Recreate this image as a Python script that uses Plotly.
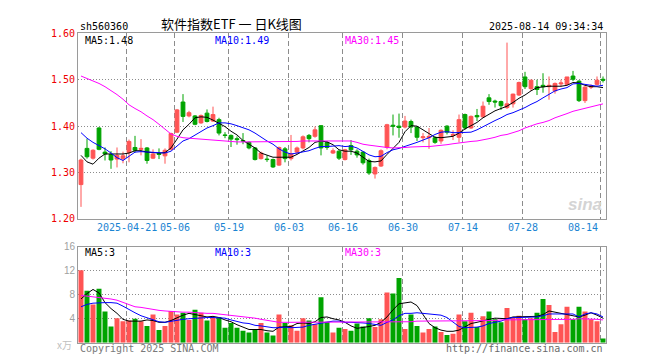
import plotly.graph_objects as go

# ---------------- data ----------------
dates = (
    ["2025-04-09", "2025-04-10", "2025-04-11", "2025-04-14", "2025-04-15", "2025-04-16", "2025-04-17",
     "2025-04-18", "2025-04-21", "2025-04-22", "2025-04-23", "2025-04-24", "2025-04-25", "2025-04-28",
     "2025-04-29", "2025-04-30",
     "2025-05-06", "2025-05-07", "2025-05-08", "2025-05-09", "2025-05-12", "2025-05-13", "2025-05-14",
     "2025-05-15", "2025-05-16", "2025-05-19", "2025-05-20", "2025-05-21", "2025-05-22", "2025-05-23",
     "2025-05-26", "2025-05-27", "2025-05-28", "2025-05-29", "2025-05-30",
     "2025-06-03", "2025-06-04", "2025-06-05", "2025-06-06", "2025-06-09", "2025-06-10", "2025-06-11",
     "2025-06-12", "2025-06-13", "2025-06-16", "2025-06-17", "2025-06-18", "2025-06-19", "2025-06-20",
     "2025-06-23", "2025-06-24", "2025-06-25", "2025-06-26", "2025-06-27", "2025-06-30",
     "2025-07-01", "2025-07-02", "2025-07-03", "2025-07-04", "2025-07-07", "2025-07-08", "2025-07-09",
     "2025-07-10", "2025-07-11", "2025-07-14", "2025-07-15", "2025-07-16", "2025-07-17", "2025-07-18",
     "2025-07-21", "2025-07-22", "2025-07-23", "2025-07-24", "2025-07-25", "2025-07-28", "2025-07-29",
     "2025-07-30", "2025-07-31",
     "2025-08-01", "2025-08-04", "2025-08-05", "2025-08-06", "2025-08-07", "2025-08-08", "2025-08-11",
     "2025-08-12", "2025-08-13", "2025-08-14"]
)

opens = [1.274, 1.352, 1.331, 1.396, 1.344, 1.339, 1.329, 1.330, 1.343, 1.354,
         1.350, 1.353, 1.331, 1.341, 1.336, 1.350, 1.387, 1.452, 1.422, 1.422,
         1.407, 1.428, 1.411, 1.414, 1.381, 1.380, 1.373, 1.369, 1.365, 1.353,
         1.330, 1.329, 1.328, 1.316, 1.351, 1.330, 1.344, 1.353, 1.380, 1.378,
         1.401, 1.365, 1.342, 1.346, 1.328, 1.358, 1.346, 1.344, 1.326, 1.297,
         1.314, 1.354, 1.402, 1.400, 1.398, 1.410, 1.398, 1.375, 1.375, 1.375,
         1.368, 1.400, 1.380, 1.376, 1.425, 1.396, 1.423, 1.420, 1.461, 1.454,
         1.453, 1.440, 1.448, 1.467, 1.506, 1.481, 1.485, 1.488, 1.485, 1.476,
         1.491, 1.490, 1.508, 1.497, 1.455, 1.484, 1.490, 1.501]
highs = [1.330, 1.373, 1.350, 1.398, 1.354, 1.346, 1.354, 1.345, 1.371, 1.379,
         1.372, 1.355, 1.350, 1.352, 1.352, 1.386, 1.437, 1.469, 1.433, 1.424,
         1.425, 1.436, 1.442, 1.418, 1.387, 1.382, 1.378, 1.385, 1.367, 1.355,
         1.345, 1.337, 1.330, 1.356, 1.355, 1.381, 1.356, 1.380, 1.383, 1.399,
         1.402, 1.368, 1.352, 1.348, 1.351, 1.370, 1.350, 1.346, 1.330, 1.313,
         1.350, 1.405, 1.425, 1.427, 1.422, 1.414, 1.400, 1.385, 1.396, 1.378,
         1.393, 1.402, 1.391, 1.425, 1.427, 1.423, 1.437, 1.453, 1.469, 1.457,
         1.455, 1.580, 1.470, 1.496, 1.517, 1.500, 1.500, 1.514, 1.507, 1.494,
         1.500, 1.506, 1.519, 1.499, 1.486, 1.490, 1.507, 1.507]
lows = [1.226, 1.330, 1.328, 1.348, 1.326, 1.308, 1.311, 1.320, 1.322, 1.343,
        1.337, 1.319, 1.329, 1.329, 1.319, 1.348, 1.385, 1.409, 1.419, 1.402,
        1.405, 1.408, 1.409, 1.380, 1.374, 1.355, 1.360, 1.361, 1.350, 1.326,
        1.328, 1.323, 1.310, 1.314, 1.322, 1.326, 1.340, 1.350, 1.365, 1.375,
        1.337, 1.349, 1.340, 1.327, 1.326, 1.338, 1.332, 1.317, 1.295, 1.287,
        1.312, 1.350, 1.380, 1.375, 1.395, 1.385, 1.368, 1.365, 1.351, 1.362,
        1.362, 1.382, 1.370, 1.365, 1.392, 1.394, 1.411, 1.418, 1.446, 1.440,
        1.435, 1.437, 1.440, 1.465, 1.480, 1.476, 1.467, 1.472, 1.457, 1.470,
        1.485, 1.488, 1.497, 1.452, 1.450, 1.480, 1.487, 1.494]
closes = [1.327, 1.334, 1.348, 1.350, 1.340, 1.327, 1.337, 1.336, 1.367, 1.348,
          1.352, 1.326, 1.340, 1.339, 1.348, 1.384, 1.435, 1.421, 1.429, 1.404,
          1.423, 1.410, 1.425, 1.385, 1.380, 1.372, 1.371, 1.368, 1.353, 1.328,
          1.342, 1.328, 1.312, 1.354, 1.330, 1.340, 1.353, 1.377, 1.373, 1.392,
          1.353, 1.354, 1.347, 1.331, 1.349, 1.349, 1.338, 1.321, 1.299, 1.311,
          1.347, 1.403, 1.400, 1.397, 1.411, 1.398, 1.376, 1.377, 1.378, 1.365,
          1.391, 1.387, 1.382, 1.414, 1.396, 1.421, 1.420, 1.443, 1.453, 1.452,
          1.444, 1.448, 1.469, 1.494, 1.485, 1.499, 1.479, 1.485, 1.488, 1.492,
          1.493, 1.506, 1.501, 1.455, 1.484, 1.486, 1.499, 1.499]

ma5 = [1.337, 1.323, 1.318, 1.331, 1.340, 1.340, 1.340, 1.340, 1.342, 1.347,
       1.347, 1.344, 1.343, 1.342, 1.343, 1.353, 1.372, 1.392, 1.404, 1.418,
       1.420, 1.419, 1.413, 1.406, 1.399, 1.389, 1.381, 1.369, 1.361, 1.353,
       1.342, 1.338, 1.333, 1.333, 1.333, 1.333, 1.339, 1.346, 1.354, 1.365,
       1.368, 1.366, 1.360, 1.349, 1.346, 1.346, 1.342, 1.333, 1.324, 1.323,
       1.325, 1.339, 1.353, 1.365, 1.388, 1.401, 1.400, 1.392, 1.385, 1.376,
       1.375, 1.376, 1.378, 1.385, 1.394, 1.401, 1.408, 1.418, 1.426, 1.433,
       1.438, 1.443, 1.451, 1.460, 1.467, 1.476, 1.483, 1.485, 1.486, 1.486,
       1.486, 1.488, 1.494, 1.493, 1.488, 1.485, 1.485, 1.483]
ma10 = [1.386, 1.374, 1.365, 1.358, 1.351, 1.342, 1.332, 1.326, 1.335, 1.344,
        1.345, 1.344, 1.344, 1.342, 1.342, 1.346, 1.358, 1.368, 1.373, 1.381,
        1.389, 1.396, 1.401, 1.407, 1.407, 1.405, 1.401, 1.397, 1.392, 1.385,
        1.376, 1.368, 1.361, 1.351, 1.344, 1.340, 1.342, 1.344, 1.347, 1.352,
        1.356, 1.356, 1.357, 1.358, 1.356, 1.357, 1.353, 1.346, 1.338, 1.334,
        1.335, 1.343, 1.349, 1.352, 1.356, 1.360, 1.365, 1.370, 1.375, 1.382,
        1.387, 1.388, 1.386, 1.386, 1.386, 1.387, 1.392, 1.399, 1.406, 1.412,
        1.418, 1.425, 1.429, 1.434, 1.440, 1.447, 1.453, 1.461, 1.469, 1.476,
        1.480, 1.483, 1.491, 1.492, 1.490, 1.488, 1.486, 1.488]
ma30 = [1.508, 1.503, 1.497, 1.492, 1.485, 1.477, 1.468, 1.458, 1.446, 1.438,
        1.431, 1.422, 1.414, 1.404, 1.393, 1.383, 1.378, 1.375, 1.374, 1.373,
        1.372, 1.371, 1.370, 1.368, 1.367, 1.366, 1.366, 1.366, 1.366, 1.366,
        1.366, 1.366, 1.366, 1.366, 1.366, 1.366, 1.367, 1.368, 1.368, 1.369,
        1.369, 1.369, 1.369, 1.369, 1.369, 1.368, 1.365, 1.361, 1.359, 1.357,
        1.356, 1.354, 1.353, 1.353, 1.354, 1.355, 1.356, 1.356, 1.356, 1.357,
        1.359, 1.360, 1.362, 1.364, 1.365, 1.367, 1.368, 1.370, 1.373, 1.376,
        1.380, 1.382, 1.386, 1.390, 1.396, 1.401, 1.405, 1.408, 1.412, 1.418,
        1.422, 1.427, 1.432, 1.435, 1.438, 1.441, 1.444, 1.448]

volumes = [12.1, 8.7, 6.4, 9.0, 5.2, 2.7, 4.1, 3.6, 3.7, 4.0,
           3.6, 2.8, 4.7, 2.1, 2.8, 5.3, 4.7, 5.0, 3.8, 5.5,
           5.0, 3.7, 4.2, 4.3, 2.5, 3.3, 2.5, 2.0, 1.7, 2.1,
           3.3, 1.7, 1.2, 4.7, 3.3, 2.9, 2.0, 4.1, 3.7, 3.1,
           7.6, 3.5, 1.7, 2.5, 2.3, 2.0, 3.2, 2.7, 4.1, 2.6,
           3.9, 8.4, 8.2, 10.8, 2.3, 4.7, 2.8, 1.7, 2.3, 2.7,
           1.8, 1.3, 1.5, 4.7, 3.6, 5.0, 2.6, 4.4, 5.2, 3.9,
           3.4, 5.8, 4.2, 4.5, 3.9, 4.1, 5.0, 7.3, 6.3, 1.8,
           3.1, 6.0, 3.9, 6.0, 5.2, 3.9, 3.6, 0.7]
vma5 = [7.3, 8.2, 8.9, 8.3, 6.7, 5.7, 4.9, 3.9, 3.6, 3.6,
        3.6, 3.8, 3.7, 3.4, 3.4, 3.7, 4.2, 4.6, 4.9, 4.7,
        4.5, 4.3, 4.4, 4.2, 3.8, 3.5, 3.0, 2.6, 2.2, 2.2,
        2.2, 2.0, 1.9, 2.6, 2.7, 2.7, 3.2, 3.3, 3.2, 3.5,
        4.2, 4.3, 4.0, 3.8, 3.4, 2.8, 2.4, 2.5, 2.7, 2.9,
        3.4, 4.3, 5.5, 6.5, 6.7, 6.8, 6.2, 4.6, 3.2, 2.5,
        2.1, 1.9, 1.9, 2.1, 2.6, 3.2, 3.4, 3.7, 3.9, 4.1,
        4.0, 4.0, 4.3, 4.3, 4.3, 4.3, 4.4, 4.7, 5.3, 5.1,
        4.9, 4.7, 4.6, 4.3, 4.6, 5.0, 4.6, 4.1]
vma10 = [6.0, 6.4, 6.6, 6.7, 6.7, 6.7, 6.6, 6.1, 5.5, 5.0,
         4.5, 4.2, 3.9, 3.5, 3.4, 3.6, 3.8, 3.9, 4.0, 4.1,
         4.2, 4.2, 4.2, 4.2, 4.1, 3.8, 3.5, 3.3, 3.2, 2.9,
         2.8, 2.6, 2.5, 2.5, 2.6, 2.5, 2.5, 2.6, 2.9, 3.1,
         3.3, 3.4, 3.6, 3.6, 3.4, 3.4, 3.4, 3.3, 3.2, 3.1,
         2.9, 3.4, 3.8, 4.5, 4.9, 4.9, 5.0, 4.9, 4.8, 4.6,
         4.6, 4.2, 3.4, 2.7, 2.5, 2.5, 2.6, 2.8, 3.2, 3.4,
         3.6, 4.0, 4.2, 4.2, 4.2, 4.2, 4.3, 4.5, 4.8, 4.8,
         4.8, 4.8, 4.8, 4.3, 4.8, 5.0, 4.8, 4.3]
vma30 = [7.9, 7.8, 7.7, 7.6, 7.5, 7.3, 7.1, 6.7, 6.3, 6.0,
         5.9, 5.7, 5.6, 5.4, 5.3, 5.2, 5.2, 5.1, 5.1, 5.0,
         5.0, 4.9, 4.9, 4.8, 4.7, 4.6, 4.5, 4.4, 4.2, 4.1,
         3.9, 3.7, 3.5, 3.4, 3.4, 3.4, 3.4, 3.4, 3.4, 3.4,
         3.4, 3.4, 3.4, 3.4, 3.4, 3.4, 3.4, 3.4, 3.4, 3.5,
         3.5, 3.5, 3.5, 3.5, 3.5, 3.5, 3.6, 3.6, 3.6, 3.6,
         3.6, 3.6, 3.6, 3.7, 3.7, 3.7, 3.7, 3.7, 3.7, 3.7,
         3.8, 3.8, 3.8, 3.8, 3.9, 3.9, 3.9, 3.9, 3.9, 3.9,
         3.9, 3.9, 3.9, 4.0, 4.0, 3.9, 3.9, 3.8]

tick_dates = ["2025-04-21", "2025-05-06", "2025-05-19", "2025-06-03", "2025-06-16",
              "2025-06-30", "2025-07-14", "2025-07-28", "2025-08-14"]
tick_labels = ["2025-04-21", "05-06", "05-19", "06-03", "06-16", "06-30", "07-14", "07-28", "08-14"]

price_ticks = [1.2, 1.3, 1.4, 1.5, 1.6]
vol_ticks = [4, 8, 12, 16]

title_code = "sh560360"
title_name = "软件指数ETF 一 日K线图"
timestamp = "2025-08-14 09:34:34"
ma_price_labels = ["MA5:1.48", "MA10:1.49", "MA30:1.45"]
ma_vol_labels = ["MA5:3", "MA10:3", "MA30:3"]

# ---------------- style ----------------
W, H = 660, 360
RED = "#ff5454"
GREEN = "#00a400"
MA_COLORS = ["#000000", "#0000ff", "#ff00ff"]
MONO = "DejaVu Sans Mono"
FRAME = "#9a9a9a"
GRID = "#8c8c8c"
X0, X1 = 70, 598
PY0, PY1 = 20, 212
VY0, VY1 = 241, 340


def px(x):
    return x / W


def py(y):
    return 1 - y / H


vol_colors = [RED if c >= o else GREEN for o, c in zip(opens, closes)]

fig = go.Figure()
fig.add_trace(go.Candlestick(
    x=dates, open=opens, high=highs, low=lows, close=closes,
    xaxis="x", yaxis="y", whiskerwidth=0,
    increasing=dict(line=dict(color=RED, width=1), fillcolor=RED),
    decreasing=dict(line=dict(color=GREEN, width=1), fillcolor=GREEN),
    showlegend=False, hoverinfo="skip"))
for arr, col in zip([ma5, ma10, ma30], MA_COLORS):
    fig.add_trace(go.Scatter(x=dates, y=arr, mode="lines", line=dict(color=col, width=1),
                             xaxis="x", yaxis="y", showlegend=False, hoverinfo="skip"))

fig.add_trace(go.Bar(x=dates, y=volumes, marker=dict(color=vol_colors, line=dict(width=0)),
                     xaxis="x2", yaxis="y2", showlegend=False, hoverinfo="skip"))
for arr, col in zip([vma5, vma10, vma30], MA_COLORS):
    fig.add_trace(go.Scatter(x=dates, y=arr, mode="lines", line=dict(color=col, width=1),
                             xaxis="x2", yaxis="y2", showlegend=False, hoverinfo="skip"))

xcommon = dict(type="category", range=[-0.5, len(dates) - 0.5], domain=[px(X0), px(X1)],
               tickmode="array", tickvals=tick_dates, tickson="boundaries",
               showticklabels=False, ticks="",
               showgrid=True, gridcolor=GRID, griddash="5px,3px", gridwidth=1,
               showline=True, mirror=True, linecolor=FRAME, linewidth=1, zeroline=False,
               fixedrange=True, layer="below traces")

fig.update_layout(
    width=W, height=H, margin=dict(l=0, r=0, t=0, b=0),
    paper_bgcolor="white", plot_bgcolor="white",
    bargap=0.17, boxgap=0.1,
    xaxis=dict(anchor="y", rangeslider=dict(visible=False), **xcommon),
    xaxis2=dict(anchor="y2", matches="x", **xcommon),
    yaxis=dict(domain=[py(PY1), py(PY0)], range=[1.2, 1.6], tickvals=price_ticks,
               tickformat=".2f", tickfont=dict(family=MONO, size=10, color="#ee0000"),
               showgrid=True, gridcolor=GRID, griddash="1px,2px", gridwidth=1,
               showline=True, mirror=True,
               linecolor=FRAME, zeroline=False, ticks="", fixedrange=True),
    yaxis2=dict(domain=[py(VY1), py(VY0)], range=[0, 16], tickvals=vol_ticks,
                tickfont=dict(family="Liberation Sans", size=10, color="#a0a0a0"),
                showgrid=True, gridcolor=GRID, griddash="1px,2px", gridwidth=1,
                showline=True, mirror=True,
                linecolor=FRAME, zeroline=False, ticks="", fixedrange=True),
    showlegend=False,
)

ann = []
# header
ann.append(dict(x=px(X0), y=py(13), xref="paper", yref="paper", xanchor="left", yanchor="middle",
                text=title_code, showarrow=False, font=dict(family=MONO, size=10, color="#000")))
ann.append(dict(x=px(223), y=py(10), xref="paper", yref="paper", xanchor="center", yanchor="middle",
                text=title_name, showarrow=False,
                font=dict(family="Noto Sans CJK SC", size=13, color="#000")))
ann.append(dict(x=px(597), y=py(13), xref="paper", yref="paper", xanchor="right", yanchor="middle",
                text=timestamp, showarrow=False, font=dict(family=MONO, size=10, color="#000")))
# MA labels
for lab, col, xx in zip(ma_price_labels, MA_COLORS, [75, 205, 335]):
    ann.append(dict(x=px(xx), y=py(27), xref="paper", yref="paper", xanchor="left", yanchor="middle",
                    text=lab, showarrow=False, font=dict(family=MONO, size=10, color=col)))
for lab, col, xx in zip(ma_vol_labels, MA_COLORS, [75, 205, 335]):
    ann.append(dict(x=px(xx), y=py(247), xref="paper", yref="paper", xanchor="left", yanchor="middle",
                    text=lab, showarrow=False, font=dict(family=MONO, size=10, color=col)))
# date labels
for i, (d, lab) in enumerate(zip(tick_dates, tick_labels)):
    last = i == len(tick_dates) - 1
    ann.append(dict(x=d, y=py(221), xref="x", yref="paper",
                    xanchor="right" if last else "center", yanchor="middle",
                    xshift=-3 if last else -2,
                    text=lab, showarrow=False, font=dict(family=MONO, size=10, color="#1a84d2")))
# footer
ann.append(dict(x=px(X0), y=py(346), xref="paper", yref="paper", xanchor="left", yanchor="middle",
                text="Copyright 2025 SINA.COM", showarrow=False,
                font=dict(family=MONO, size=10, color="#7a7a7a")))
ann.append(dict(x=px(597), y=py(346), xref="paper", yref="paper", xanchor="right", yanchor="middle",
                text="http://finance.sina.com.cn", showarrow=False,
                font=dict(family=MONO, size=10, color="#6a6a6a")))
ann.append(dict(x=px(66), y=py(342), xref="paper", yref="paper", xanchor="right", yanchor="middle",
                text="x万", showarrow=False,
                font=dict(family="Noto Sans CJK SC", size=10, color="#c0c0c0")))
# watermark
ann.append(dict(x=px(596), y=py(197), xref="paper", yref="paper", xanchor="right", yanchor="middle",
                text="<b><i>sina</i></b>", showarrow=False,
                font=dict(family="Liberation Sans", size=17, color="#d4d4d4")))
fig.update_layout(annotations=ann)

fig.write_html("out.html")
